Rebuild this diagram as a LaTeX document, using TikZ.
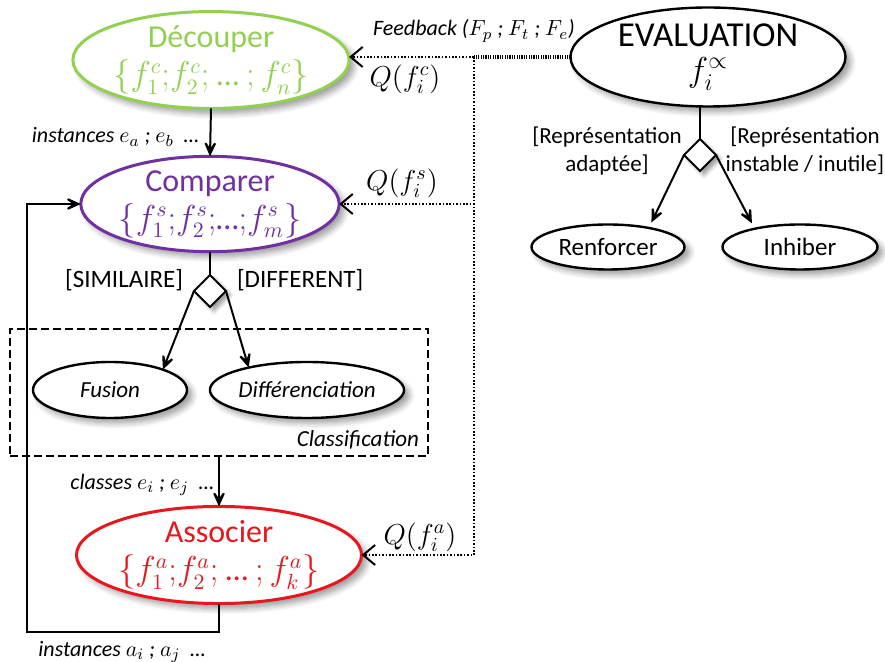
\documentclass[tikz,border=0pt]{standalone}
\usepackage{fontspec}
\setmainfont{Carlito}
\usepackage{amsmath}
\usepackage{tikz}
\usetikzlibrary{arrows.meta,shapes.geometric,shadows.blur}
\definecolor{decgreen}{RGB}{146,208,80}
\definecolor{cmppurple}{RGB}{112,48,160}
\definecolor{ascred}{RGB}{232,22,30}

\begin{document}
\begin{tikzpicture}[x=0.5pt,y=-0.5pt,every node/.style={outer sep=0pt,inner sep=0pt}]
\tikzstyle{act}=[ellipse,draw,fill=white,line width=1.2pt,align=center,
  blur shadow={shadow xshift=2.5pt,shadow yshift=-2.5pt,shadow blur radius=3pt,shadow blur steps=6,shadow opacity=40}]
\tikzstyle{title}=[font=\fontsize{16}{19}\selectfont]
\tikzstyle{choice}=[diamond,draw,fill=white,line width=1pt,minimum width=16pt,minimum height=16pt,
  blur shadow={shadow xshift=2pt,shadow yshift=-2pt,shadow blur radius=2pt,shadow blur steps=5,shadow opacity=40}]
\tikzstyle{flow}=[line width=1pt,-{Stealth[length=11pt,width=10pt,inset=7pt]}]
\tikzstyle{fb}=[line width=1pt,dash pattern=on 0.8pt off 0.9pt,-{Straight Barb[length=6pt,width=10pt,line width=1pt]}]
\tikzstyle{fbbus}=[line width=2pt,dash pattern=on 0.6pt off 0.6pt]
\tikzstyle{lbl}=[font=\fontsize{12.5}{15}\selectfont]
\tikzstyle{slbl}=[font=\fontsize{11.5}{14}\selectfont]
\tikzstyle{islbl}=[font=\fontsize{11.5}{14}\selectfont\itshape]
\tikzstyle{ilbl}=[font=\fontsize{11}{13}\selectfont\itshape]
\tikzstyle{qlbl}=[font=\fontsize{14}{16}\selectfont]

\useasboundingbox (0,0) rectangle (885,662);

\node (dec) at (211,60) [act,title,draw=decgreen,text=decgreen,line width=1.5pt,minimum width=124.5pt,minimum height=47pt] {D\'ecouper\\$\{f_1^c{;}f_2^c{;}\ \text{…}\ {;}\,f_n^c\}$};
\node (comp) at (210,204) [act,title,draw=cmppurple,text=cmppurple,line width=1.5pt,minimum width=124pt,minimum height=47.5pt] {Comparer\\$\{f_1^s{;}f_2^s{;}\text{…}{;}f_m^s\}$};
\node (assoc) at (219,555) [act,title,draw=ascred,text=ascred,line width=1.5pt,minimum width=124pt,minimum height=48pt] {Associer\\$\{f_1^a{;}f_2^a{;}\ \text{…}\ {;}\,f_k^a\}$};
\node (eval) at (708,57) [act,font=\fontsize{17.5}{17.5}\selectfont,minimum width=137.5pt,minimum height=49pt] {\raisebox{5pt}{\begin{tabular}{@{}c@{}}EVALUATION\\$f_i^{\propto}$\end{tabular}}};

\node (dia1) at (210,291) [choice] {};
\node (dia2) at (700,155) [choice] {};

\node (cls) at (219,392.5) [draw,line width=1.2pt,dash pattern=on 4pt off 2pt,minimum width=209pt,minimum height=63.5pt] {};
\node (fus) at (110,390) [act,islbl,minimum width=77pt,minimum height=28pt] {Fusion};
\node (diff) at (307,390) [act,islbl,minimum width=75pt,minimum height=28pt] {Diff\'erenciation};
\node (clsname) at (419,440) [islbl,anchor=east] {Classification};

\node (renf) at (608,247) [act,lbl,minimum width=76.5pt,minimum height=22.5pt] {Renforcer};
\node (inhib) at (800,247) [act,lbl,minimum width=77.5pt,minimum height=22.5pt] {Inhiber};

\coordinate (fbk) at (474,57);
\coordinate (lb) at (27,632);

\draw [flow] (dec.south) -- (comp.north);
\draw [line width=1pt] (comp.south) -- (dia1.north);
\draw [flow] (dia1.west) -- (fus.21);
\draw [flow] (dia1.east) -- (diff.159);
\draw [flow] (cls.south) -- (assoc.north);
\draw [flow] (assoc.south) |- (lb) |- (comp.west);

\draw [line width=1pt] (dia2.north) -- (dia2.north |- eval.south);
\draw [flow,shorten >=3pt] (dia2.west) -- (renf.25);
\draw [flow,shorten >=3pt] (dia2.east) -- (inhib.158);

\draw [fbbus] (eval.west) -- (fbk);
\draw [fb] (fbk) -- (dec.east |- fbk);
\draw [fb] (fbk) |- (comp.east);
\draw [fb] (fbk) |- (assoc.east);

\node (fbtxt) at (474,31) [ilbl] {Feedback ($F_p$ ; $F_t$ ; $F_e$)};
\node (qdec) at (405,79) [qlbl] {$Q(f_i^c)$};
\node (qcomp) at (402,183) [qlbl] {$Q(f_i^s)$};
\node (qassoc) at (420,537) [qlbl] {$Q(f_i^a)$};

\node (inst1) at (199,137) [ilbl,anchor=east] {instances $e_a$ ; $e_b$ \ \ldots};
\node (classes) at (214,485) [ilbl,anchor=east] {classes $e_i$ ; $e_j$ \ \ldots};
\node (inst2) at (122,652) [ilbl] {instances $a_i$ ; $a_j$ \ \ldots};

\node (sim) at (183,280) [lbl,anchor=east] {[SIMILAIRE]};
\node (dif) at (237,280) [lbl,anchor=west] {[DIFFERENT]};
\node (adapt) at (607,151) [slbl,align=center] {[Repr\'esentation\\adapt\'ee]};
\node (instab) at (805,151) [slbl,align=center] {[Repr\'esentation\\instable / inutile]};
\end{tikzpicture}
\end{document}
